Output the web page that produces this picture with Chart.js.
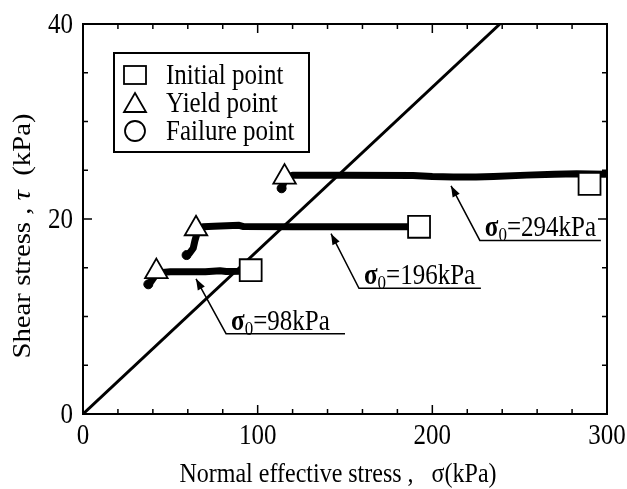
<!DOCTYPE html>
<html>
<head>
<meta charset="utf-8">
<script src="https://cdn.jsdelivr.net/npm/chart.js@4/dist/chart.umd.min.js"></script>
<style>
  body { margin: 0; background: #fff; }
  #wrap { width: 627px; height: 489px; }
</style>
</head>
<body>
<div id="wrap"><canvas id="myChart" width="627" height="489"></canvas></div>
<script>
// ---------------- data (sigma in kPa, tau in kPa)
var initialSigma = [96, 192.4, 290];
var initialTau = [14.75, 19.2, 23.6];
var yieldSigma = [42.0, 64.7, 115.4];
var yieldTau = [14.6, 19.0, 24.3];

var path98Sigma = [37.4, 39, 41, 44, 50, 60, 70, 78.4, 82, 90, 96];
var path98Tau = [13.3, 13.6, 14.1, 14.5, 14.6, 14.6, 14.6, 14.7, 14.62, 14.65, 14.75];

var path196Sigma = [59.3, 61, 63.1, 64.1, 65.1, 66.5, 68.7, 75, 89.4, 92, 120, 150, 185, 192];
var path196Tau = [16.3, 16.5, 17.0, 17.8, 18.4, 18.9, 19.2, 19.25, 19.35, 19.22, 19.2, 19.2, 19.2, 19.2];

var path294Sigma = [113.7, 114.5, 116, 120, 150, 189, 200, 212, 225, 235, 254, 270, 282.6, 299];
var path294Tau = [23.15, 23.5, 24.2, 24.5, 24.5, 24.45, 24.35, 24.3, 24.3, 24.35, 24.5, 24.6, 24.65, 24.6];

var failSigma = [0, 238.7];
var failTau = [0, 40];

// annotations "σ0=..kPa"
var sigma0Labels = ['98', '196', '294'];
var arrowTipSigma = [64.7, 142, 210.7];
var arrowTipTau = [13.86, 18.5, 23.4];
var underlineSigmaStart = [81.9, 158, 227.2];
var underlineSigmaEnd = [150, 227.8, 296.5];
var underlineTau = [8.24, 12.9, 17.8];

var xTicks = [0, 100, 200, 300];
var yTicks = [0, 20, 40];

var legendLabels = ['Initial point', 'Yield point', 'Failure point'];

function pts(xs, ys) {
  var out = [];
  for (var i = 0; i < xs.length; i++) out.push({x: xs[i], y: ys[i]});
  return out;
}

var serif = "'Liberation Serif', 'Times New Roman', serif";
var SY = 1.15; // text in the picture is a bit taller than wide

// text drawn with a small vertical stretch
function stretchText(ctx, str, x, y, font, align, baseline) {
  ctx.save();
  ctx.font = font;
  ctx.textAlign = align || 'left';
  ctx.textBaseline = baseline || 'alphabetic';
  ctx.translate(x, y);
  ctx.scale(1, SY);
  ctx.fillText(str, 0, 0);
  ctx.restore();
  ctx.font = font;
  return ctx.measureText(str).width;
}

// ---------------- ticks inside on all four sides, frame, tick labels
const frameTicks = {
  id: 'frameTicks',
  afterDraw(chart) {
    const ctx = chart.ctx;
    const a = chart.chartArea;
    const xs = chart.scales.x, ys = chart.scales.y;
    ctx.save();
    ctx.strokeStyle = '#000';
    ctx.fillStyle = '#000';
    ctx.lineWidth = 1.5;
    ctx.beginPath();
    xs.ticks.forEach(function (t) {
      var px = xs.getPixelForValue(t.value);
      var len = (t.value % 100 === 0) ? 9 : 5;
      ctx.moveTo(px, a.bottom); ctx.lineTo(px, a.bottom - len);
      ctx.moveTo(px, a.top); ctx.lineTo(px, a.top + len);
    });
    ys.ticks.forEach(function (t) {
      var py = ys.getPixelForValue(t.value);
      var len = (t.value % 20 === 0) ? 9 : 5;
      ctx.moveTo(a.left, py); ctx.lineTo(a.left + len, py);
      ctx.moveTo(a.right, py); ctx.lineTo(a.right - len, py);
    });
    ctx.stroke();
    ctx.lineWidth = 2;
    ctx.strokeRect(a.left, a.top, a.right - a.left, a.bottom - a.top);

    var tickFont = '25px ' + serif;
    xTicks.forEach(function (v) {
      stretchText(ctx, String(v), xs.getPixelForValue(v), a.bottom + 30, tickFont, 'center', 'alphabetic');
    });
    yTicks.forEach(function (v) {
      stretchText(ctx, String(v), a.left - 10, ys.getPixelForValue(v) + 9, tickFont, 'right', 'alphabetic');
    });
    // x title
    stretchText(ctx, 'Normal effective stress ,   σ(kPa)', 338, 482, '24px ' + serif, 'center', 'alphabetic');
    ctx.restore();
  }
};

// ---------------- y axis title with italic tau
const yTitle = {
  id: 'yTitle',
  afterDraw(chart) {
    const ctx = chart.ctx;
    var parts = [
      ['Shear stress , ', 'normal 25px ' + serif],
      ['τ', 'italic 25px ' + serif],
      ['  (kPa)', 'normal 25px ' + serif]
    ];
    ctx.save();
    var total = 0;
    parts.forEach(function (p) { ctx.font = p[1]; total += ctx.measureText(p[0]).width; });
    ctx.translate(23, 236);
    ctx.rotate(-Math.PI / 2);
    ctx.scale(SY, 1);
    ctx.fillStyle = '#000';
    ctx.textBaseline = 'middle';
    ctx.textAlign = 'left';
    var x = -total / 2;
    parts.forEach(function (p) {
      ctx.font = p[1];
      ctx.fillText(p[0], x, 0);
      x += ctx.measureText(p[0]).width;
    });
    ctx.restore();
  }
};

// ---------------- legend box
const boxLegend = {
  id: 'boxLegend',
  afterDraw(chart) {
    const ctx = chart.ctx;
    ctx.save();
    ctx.fillStyle = '#fff';
    ctx.strokeStyle = '#000';
    ctx.lineWidth = 2;
    ctx.fillRect(114, 53, 195, 99);
    ctx.strokeRect(114, 53, 195, 99);
    var rows = [75, 103, 131];
    ctx.lineWidth = 1.8;
    ctx.strokeRect(135 - 11, rows[0] - 9, 22, 18);
    ctx.beginPath();
    ctx.moveTo(135, rows[1] - 10);
    ctx.lineTo(135 + 11, rows[1] + 9);
    ctx.lineTo(135 - 11, rows[1] + 9);
    ctx.closePath();
    ctx.stroke();
    ctx.beginPath();
    ctx.arc(135, rows[2], 10, 0, Math.PI * 2);
    ctx.stroke();
    ctx.fillStyle = '#000';
    for (var i = 0; i < legendLabels.length; i++) {
      stretchText(ctx, legendLabels[i], 166, rows[i] + 9, '25px ' + serif, 'left', 'alphabetic');
    }
    ctx.restore();
  }
};

// ---------------- sigma0 annotations with arrows
const sigmaNotes = {
  id: 'sigmaNotes',
  afterDraw(chart) {
    const ctx = chart.ctx;
    const xs = chart.scales.x, ys = chart.scales.y;
    ctx.save();
    ctx.strokeStyle = '#000';
    ctx.fillStyle = '#000';
    ctx.lineWidth = 1.5;
    for (var i = 0; i < sigma0Labels.length; i++) {
      var x0 = xs.getPixelForValue(underlineSigmaStart[i]);
      var x1 = xs.getPixelForValue(underlineSigmaEnd[i]);
      var uy = ys.getPixelForValue(underlineTau[i]);
      var tx = xs.getPixelForValue(arrowTipSigma[i]);
      var ty = ys.getPixelForValue(arrowTipTau[i]);
      ctx.beginPath();
      ctx.moveTo(x1, uy); ctx.lineTo(x0, uy); ctx.lineTo(tx, ty);
      ctx.stroke();
      var ang = Math.atan2(ty - uy, tx - x0);
      var L = 11, W = 4;
      ctx.beginPath();
      ctx.moveTo(tx, ty);
      ctx.lineTo(tx - L * Math.cos(ang) + W * Math.sin(ang), ty - L * Math.sin(ang) - W * Math.cos(ang));
      ctx.lineTo(tx - L * Math.cos(ang) - W * Math.sin(ang), ty - L * Math.sin(ang) + W * Math.cos(ang));
      ctx.closePath();
      ctx.fill();
      var x = x0 + 5, base = uy - 4;
      x += stretchText(ctx, 'σ', x, base, 'bold 25px ' + serif);
      x += stretchText(ctx, '0', x, base + 5, '17px ' + serif);
      stretchText(ctx, '=' + sigma0Labels[i] + 'kPa', x, base, '25px ' + serif);
    }
    ctx.restore();
  }
};

const pathStyle = {
  showLine: true,
  borderColor: '#000',
  backgroundColor: '#000',
  borderWidth: 7,
  borderCapStyle: 'round',
  borderJoinStyle: 'round',
  pointRadius: 0,
  order: 2
};

const data = {
  datasets: [
    Object.assign({label: 'σ0=98kPa', data: pts(path98Sigma, path98Tau)}, pathStyle),
    Object.assign({label: 'σ0=196kPa', data: pts(path196Sigma, path196Tau)}, pathStyle),
    Object.assign({label: 'σ0=294kPa', data: pts(path294Sigma, path294Tau)}, pathStyle),
    {
      label: 'Failure line',
      data: pts(failSigma, failTau),
      showLine: true,
      borderColor: '#000',
      borderWidth: 3,
      pointRadius: 0,
      order: 3
    },
    {
      label: 'Failure start',
      data: pts([path98Sigma[0], path196Sigma[0], path294Sigma[0]], [path98Tau[0], path196Tau[0], path294Tau[0]]),
      pointRadius: 4.5,
      pointBackgroundColor: '#000',
      pointBorderColor: '#000',
      order: 1
    },
    {
      label: 'Initial point',
      data: pts(initialSigma, initialTau),
      pointStyle: 'rect',
      pointRadius: 15.5,
      pointBackgroundColor: '#fff',
      pointBorderColor: '#000',
      pointBorderWidth: 1.8,
      order: 0
    },
    {
      label: 'Yield point',
      data: pts(yieldSigma, yieldTau),
      pointStyle: 'triangle',
      pointRadius: 13,
      pointBackgroundColor: '#fff',
      pointBorderColor: '#000',
      pointBorderWidth: 1.8,
      order: 0
    }
  ]
};

const config = {
  type: 'scatter',
  data: data,
  options: {
    responsive: false,
    animation: false,
    layout: { padding: { top: 24, right: 20, left: 0, bottom: 0 } },
    plugins: { legend: { display: false }, tooltip: { enabled: false } },
    elements: { line: { tension: 0 } },
    scales: {
      x: {
        type: 'linear',
        min: 0, max: 300,
        afterFit: function (s) { s.height = 75; },
        afterBuildTicks: function (s) {
          var t = [];
          for (var v = 0; v <= 300; v += 20) t.push({value: v});
          s.ticks = t;
        },
        grid: { display: false, drawTicks: false },
        border: { display: false },
        ticks: { display: false }
      },
      y: {
        type: 'linear',
        min: 0, max: 40,
        afterFit: function (s) { s.width = 83; },
        afterBuildTicks: function (s) {
          var t = [];
          for (var v = 0; v <= 40; v += 5) t.push({value: v});
          s.ticks = t;
        },
        grid: { display: false, drawTicks: false },
        border: { display: false },
        ticks: { display: false }
      }
    }
  },
  plugins: [frameTicks, yTitle, sigmaNotes, boxLegend]
};

const myChart = new Chart(document.getElementById('myChart'), config);
</script>
</body>
</html>
